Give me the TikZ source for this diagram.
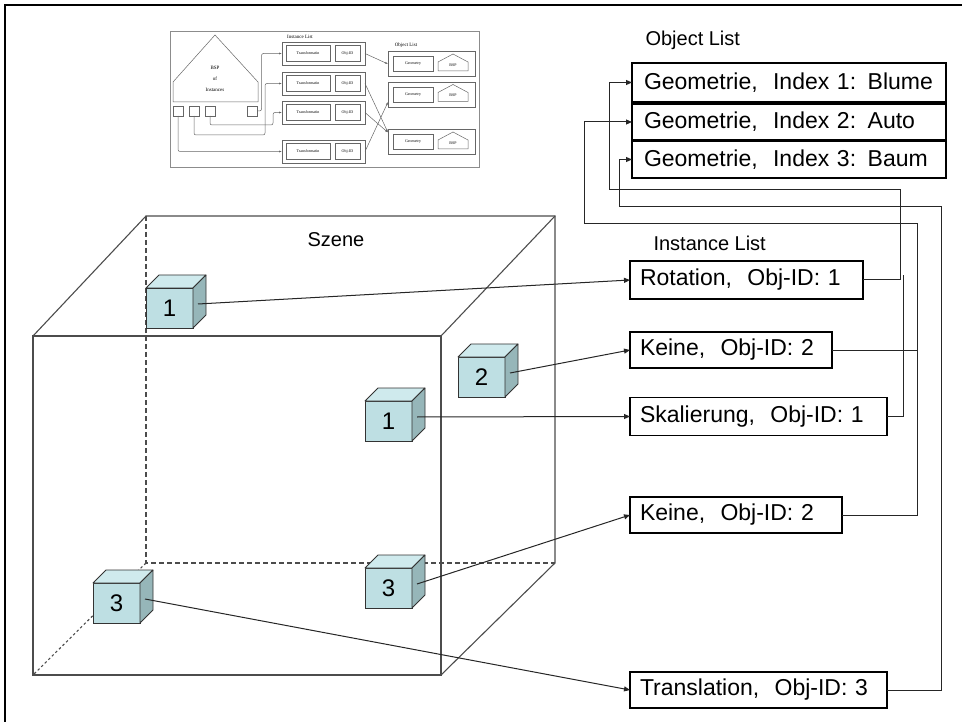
\documentclass[tikz,border=0pt]{standalone}
\usepackage{fontspec}
\setmainfont{Liberation Sans}
\newfontfamily\insetfont{Liberation Serif}
\usetikzlibrary{arrows.meta}

\definecolor{cubefront}{RGB}{190,223,227}
\definecolor{cubetop}{RGB}{207,234,237}
\definecolor{cubeside}{RGB}{150,182,185}

\tikzset{
  listbox/.style={draw, line width=1.2pt, anchor=west, inner xsep=10pt, inner ysep=0pt, outer sep=0pt, align=left, font=\fontsize{23}{27}\selectfont},
  wire/.style={line width=1pt, draw=black!85, -{Triangle[length=6pt,width=5pt]}},
  bus/.style={line width=1pt, draw=black!85},
  title/.style={font=\fontsize{20}{24}\selectfont},
  edge/.style={line width=1.1pt, draw=black!70},
  hidden/.style={line width=1.1pt, draw=black!70, dash pattern=on 5pt off 3pt},
  cubeface/.style={draw=black!80, fill=cubefront, line width=0.8pt, minimum width=47pt, minimum height=40pt, anchor=north west, inner sep=0pt, outer sep=0pt, font=\fontsize{24}{28}\selectfont},
  cubetopface/.style={draw=black!80, fill=cubetop, line width=0.8pt, line join=round},
  cubesideface/.style={draw=black!80, fill=cubeside, line width=0.8pt, line join=round},
  % small picture in the corner
  ibox/.style={draw=black!60, line width=0.5pt, inner sep=0pt, outer sep=0pt, font=\insetfont\fontsize{4}{5}\selectfont},
  itext/.style={font=\insetfont\fontsize{5}{6}\selectfont},
  iwire/.style={line width=0.5pt, draw=black!60, rounded corners=2pt, -{Latex[length=3pt,width=2pt]}}
}

% name, x, y, label
\newcommand{\smallcube}[4]{%
  \node[cubeface] (#1) at (#2,#3) {#4};
  \filldraw[cubetopface] (#1.north west) -- ++(13,-13) -- ++(47,0) -- (#1.north east) -- cycle;
  \filldraw[cubesideface] (#1.north east) -- ++(13,-13) -- ++(0,40) -- (#1.south east) -- cycle;
  \coordinate (#1s) at ([xshift=5pt,yshift=4pt]#1.east);
}

\begin{document}
\begin{tikzpicture}[x=1pt,y=-1pt]
\useasboundingbox (0,0) rectangle (962,722);
\draw[line width=2.5pt] (5,722) -- (5,5) -- (962,5);

% inset
\draw[draw=black!45, line width=1pt] (170,32) rectangle (479,168);
\draw[draw=black!60, line width=0.5pt] (173,102) -- (173,82) -- (215,35) -- (258,82) -- (258,102) -- cycle;
\node[itext, align=center, font=\insetfont\fontsize{5}{11}\selectfont] (bsp) at (215,79) {BSP\\of\\Instances};
\node[ibox, minimum width=10pt, minimum height=10pt] (sq1) at (178,111) {};
\node[ibox, minimum width=10pt, minimum height=10pt] (sq2) at (194,111) {};
\node[ibox, minimum width=10pt, minimum height=10pt] (sq3) at (210,111) {};
\node[ibox, minimum width=10pt, minimum height=10pt] (sq4) at (252.5,111) {};
\node[itext] (ilist) at (300,37) {Instance List};
\foreach \i/\yy in {1/53.5,2/83.5,3/112.5,4/151.5}{
  \node[ibox, minimum width=83pt, minimum height=23pt] (r\i) at (323.5,\yy) {};
  \node[ibox, minimum width=44pt, minimum height=16pt] (tr\i) at (308,\yy) {Transformatin};
  \node[ibox, minimum width=25pt, minimum height=16pt] (id\i) at (347.5,\yy) {Obj-ID};
}
\node[itext] (olist) at (406,45) {Object List};
\foreach \i/\yy in {1/64,2/94.5,3/142}{
  \node[ibox, minimum width=87pt, minimum height=25pt] (o\i) at (431.5,\yy) {};
  \node[ibox, minimum width=40pt, minimum height=15pt] (g\i) at (413,\yy) {Geometry};
  \draw[draw=black!60, line width=0.5pt] (438,\yy+7) -- (438,\yy-2) -- (453,\yy-10) -- (468,\yy-2) -- (468,\yy+7) -- cycle;
  \node[ibox, draw=none] (b\i) at (453,\yy+1) {BSP};
}
\draw[iwire] (sq4.east) -- ++(4,0) |- (r1.west);
\draw[iwire] (sq2.south) |- (265,135) |- (r2.west);
\draw[iwire] (sq3.south) |- (273,125) |- (r3.west);
\draw[iwire] (sq1.south) |- (r4.west);
\draw[iwire, rounded corners=0pt] (r1.east) -- (o1.west);
\draw[iwire, rounded corners=0pt] (r2.east) -- ([yshift=-3pt]o3.north west);
\draw[iwire, rounded corners=0pt] (r3.east) -- ([yshift=-3pt]o3.north west);
\draw[iwire, rounded corners=0pt] (r4.east) -- ([yshift=5pt]o2.south west);

% scene box
\draw[hidden] (146,216) -- (146,563) -- (555,563);
\draw[edge, dash pattern=on 2.5pt off 2.5pt] (146,563) -- (33,675);
\draw[edge] (33,336) rectangle (441,675);
\draw[edge] (33,336) -- (146,216) -- (555,216) -- (555,563) -- (441,675);
\draw[edge] (441,336) -- (555,216);
\node[title] (szene) at (336,240) {Szene};

\smallcube{cA}{146}{288}{1}
\smallcube{cB}{458}{357}{2}
\smallcube{cC}{365}{401}{1}
\smallcube{cD}{365}{568}{3}
\smallcube{cE}{93}{583}{3}

% object list
\node[title, anchor=west] (objtitle) at (642,40) {Object List};
\node[listbox, inner xsep=12pt, text width=290pt, minimum height=39pt] (obj1) at (632,82.5) {Geometrie,\ \ Index 1: Blume};
\node[listbox, inner xsep=12pt, text width=290pt, minimum height=36pt] (obj2) at (632,122) {Geometrie,\ \ Index 2: Auto};
\node[listbox, inner xsep=12pt, text width=290pt, minimum height=37pt] (obj3) at (632,159.5) {Geometrie,\ \ Index 3: Baum};

% instance list
\node[title, anchor=west] (insttitle) at (650,243) {Instance List};
\node[listbox, text width=213pt, minimum height=38pt] (rot) at (630,280) {Rotation,\ \ Obj-ID: 1};
\node[listbox, text width=182pt, minimum height=36pt] (k1) at (630,350) {Keine,\ \ Obj-ID: 2};
\node[listbox, text width=237pt, minimum height=38pt] (sk) at (630,416.5) {Skalierung,\ \ Obj-ID: 1};
\node[listbox, text width=192pt, minimum height=36pt] (k2) at (630,515) {Keine,\ \ Obj-ID: 2};
\node[listbox, text width=237pt, minimum height=36pt] (tr) at (630,690) {Translation,\ \ Obj-ID: 3};

\draw[wire] (cAs) -- (rot.west);
\draw[wire] (cBs) -- (k1.west);
\draw[wire] (cCs) -- (sk.west);
\draw[wire] (cDs) -- (k2.west);
\draw[wire] (cEs) -- (tr.west);

\draw[wire] (rot.east) -| (900,190) -- (609,190) |- (obj1.west);
\draw[bus] (sk.east) -| (903,275);
\draw[wire] (k1.east) -| (917,224) -- (584,224) |- (obj2.west);
\draw[bus] (k2.east) -| (917,348);
\draw[wire] (tr.east) -| (941,207) -- (619,207) |- (obj3.west);
\end{tikzpicture}
\end{document}
